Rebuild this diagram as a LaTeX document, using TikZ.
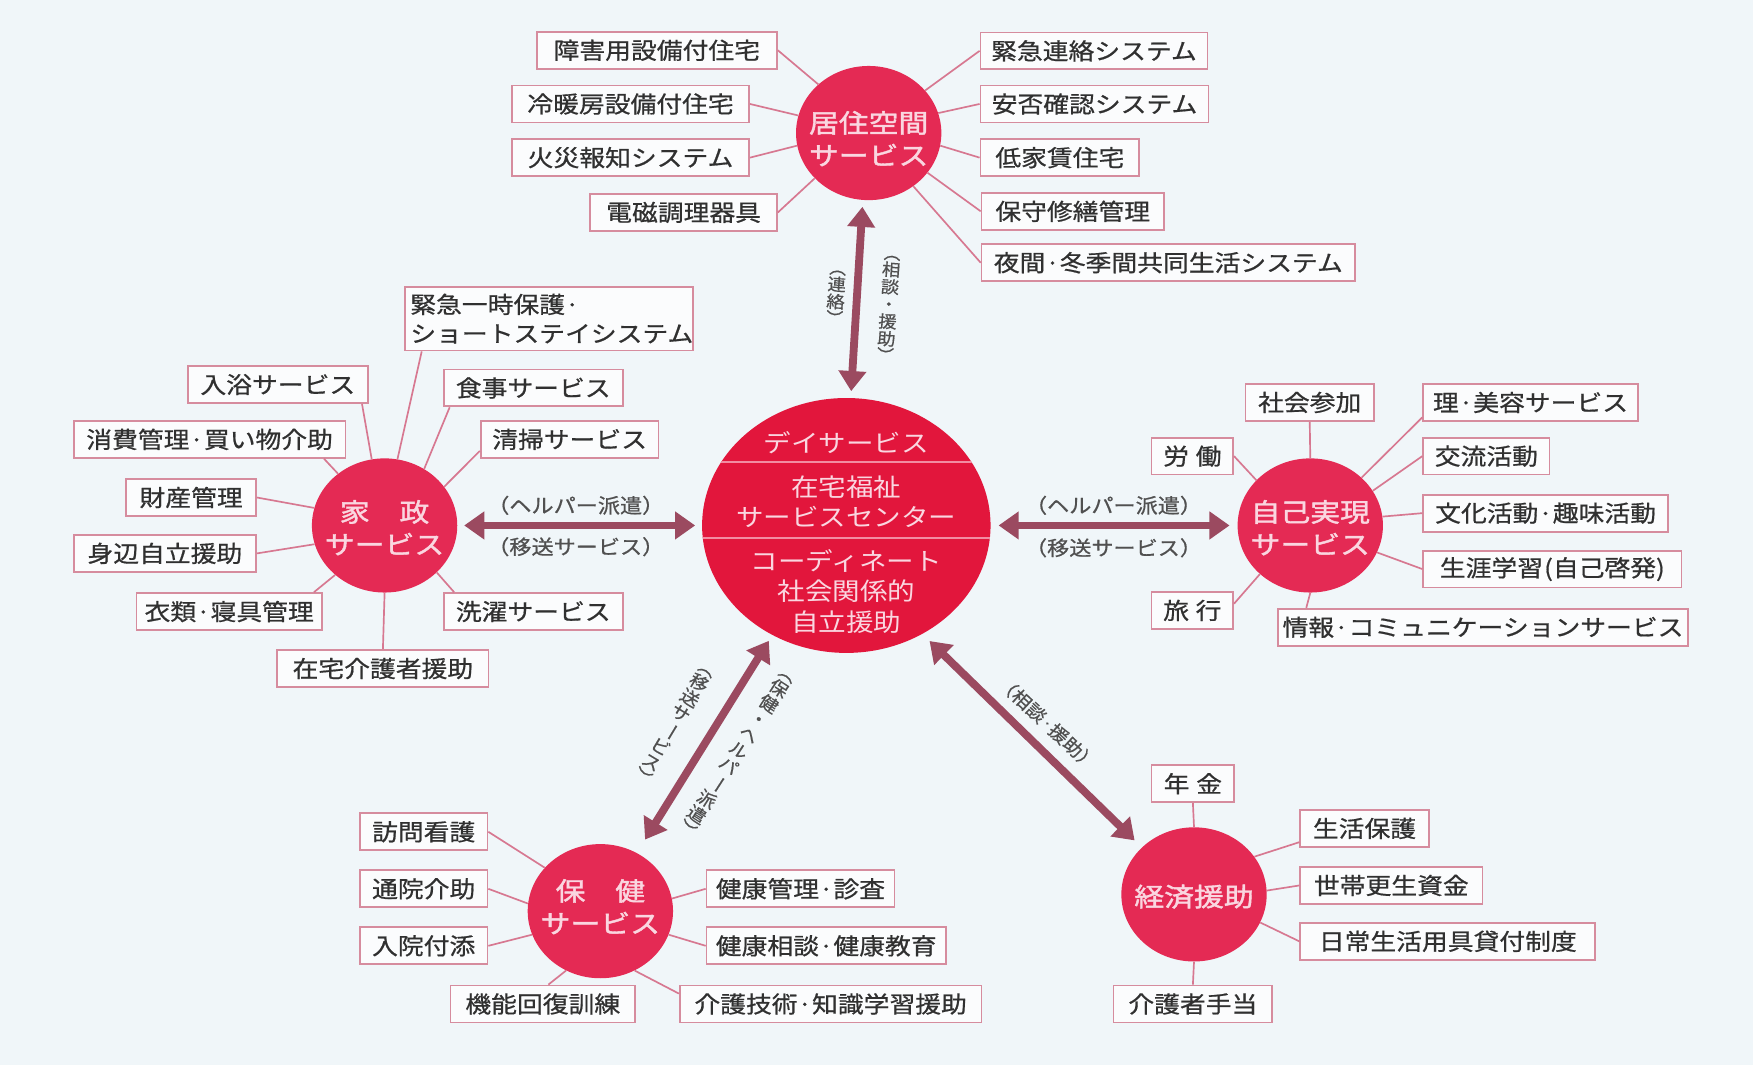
\documentclass[tikz,border=0pt]{standalone}
\usepackage{fontspec}
\setmainfont{Noto Sans CJK JP}[FakeStretch=1.12]
\newfontfamily\circfont{Noto Sans CJK JP}[FakeStretch=1.16,FakeBold=1.6]
\newfontfamily\boxfont{Noto Sans CJK JP}[FakeStretch=1.12,FakeBold=0.7]
\newfontfamily\labfont{Noto Sans CJK JP}[FakeStretch=1.1,FakeBold=0.6]
\usetikzlibrary{shapes.geometric,arrows.meta,calc}
\definecolor{bgc}{RGB}{240,246,249}
\definecolor{boxf}{RGB}{251,252,253}
\definecolor{boxc}{RGB}{214,140,158}
\definecolor{linec}{RGB}{215,120,145}
\definecolor{circc}{RGB}{228,42,84}
\definecolor{cenc}{RGB}{226,22,60}
\definecolor{ctxt}{RGB}{250,214,224}
\definecolor{arrc}{RGB}{155,74,96}
\definecolor{txtc}{RGB}{48,48,48}
\definecolor{labc}{RGB}{80,80,80}
\definecolor{divc}{RGB}{242,140,162}
\newcommand\rotg[1]{\rotatebox[origin=c]{-90}{#1}}
\begin{document}
\begin{tikzpicture}[x=1pt,y=-1pt,
 box/.style={draw=boxc, fill=boxf, line width=1.6pt, minimum height=33pt, inner xsep=4pt, inner ysep=0pt, text=txtc, font=\boxfont\fontsize{20.6}{25}\selectfont},
 circ/.style={ellipse, fill=circc, minimum width=130pt, minimum height=120pt, inner sep=0pt},
 ctext/.style={text=ctxt, font=\circfont\fontsize{23}{29}\selectfont, align=center, inner sep=0pt},
 cent/.style={text=ctxt, font=\fontsize{22}{27}\selectfont, align=center, inner sep=0pt},
 conn/.style={draw=linec, line width=1.5pt},
 bigarr/.style={draw=arrc, line width=7pt, {Triangle[width=24pt,length=18pt]}-{Triangle[width=24pt,length=18pt]}},
 hlab/.style={text=labc, font=\labfont\fontsize{18}{20}\selectfont, inner sep=0pt},
 vlab/.style={text=labc, font=\labfont\fontsize{15}{15.5}\selectfont, align=center, inner sep=0pt}
]
\useasboundingbox (0,0) rectangle (1568,953);
\fill[bgc] (0,0) rectangle (1568,953);

% ---------- circles ----------
\node[ellipse, fill=cenc, minimum width=258pt, minimum height=228pt, inner sep=0pt] (C) at (757,470) {};
\begin{scope}
\clip (757,470) ellipse [x radius=129pt, y radius=114pt];
\draw[divc, line width=1.5pt] (600,413) -- (920,413);
\draw[divc, line width=1.5pt] (600,481) -- (920,481);
\end{scope}
\node[cent] (C1) at (757,396) {デイサービス};
\node[cent] (C2) at (757,449) {在宅福祉\\サービスセンター};
\node[cent] (C3) at (757,529) {コーディネート\\社会関係的\\自立援助};

\node[circ] (K) at (777,119) {};
\node[circ] (H) at (344,470) {};
\node[circ] (J) at (1172,470) {};
\node[circ] (S) at (537,815) {};
\node[circ] (E) at (1068,800) {};
\node[ctext] (Kt) at (777,124) {居住空間\\サービス};
\node[ctext] (Ht) at (344,472) {家　政\\サービス};
\node[ctext] (Jt) at (1172,472) {自己実現\\サービス};
\node[ctext] (St) at (537,811) {保　健\\サービス};
\node[ctext] (Et) at (1068,802) {経済援助};

% ---------- boxes: 居住空間 ----------
\node[box, minimum width=215pt] (b1) at (587.5,45) {障害用設備付住宅};
\node[box, minimum width=212pt] (b2) at (564,93) {冷暖房設備付住宅};
\node[box, minimum width=212pt] (b3) at (564,141) {火災報知システム};
\node[box, minimum width=167pt] (b4) at (611.5,190) {電磁調理器具};
\node[box, minimum width=203pt] (b5) at (978.5,45.5) {緊急連絡システム};
\node[box, minimum width=204pt] (b6) at (979,93) {安否確認システム};
\node[box, minimum width=142pt] (b7) at (948,141) {低家賃住宅};
\node[box, minimum width=163pt] (b8) at (959.5,189) {保守修繕管理};
\node[box, minimum width=334pt] (b9) at (1045,235) {夜間·冬季間共同生活システム};

% ---------- boxes: 家政 ----------
\node[box, minimum width=258pt, minimum height=57pt, align=left, text width=248pt, font=\boxfont\fontsize{20.6}{26}\selectfont] (c1) at (491,285) {緊急一時保護·\\ショートステイシステム};
\node[box, minimum width=161pt] (c2) at (248.5,344) {入浴サービス};
\node[box, minimum width=160pt] (c3) at (477,347) {食事サービス};
\node[box, minimum width=243pt] (c4) at (187.5,393) {消費管理·買い物介助};
\node[box, minimum width=159pt] (c5) at (509.5,393) {清掃サービス};
\node[box, minimum width=116pt] (c6) at (171,445) {財産管理};
\node[box, minimum width=163pt] (c7) at (147.5,495) {身辺自立援助};
\node[box, minimum width=166pt] (c8) at (205,547) {衣類·寝具管理};
\node[box, minimum width=160pt] (c9) at (477,547) {洗濯サービス};
\node[box, minimum width=189pt] (c10) at (342.5,598) {在宅介護者援助};

% ---------- boxes: 自己実現 ----------
\node[box, minimum width=115pt] (d1) at (1171.5,360) {社会参加};
\node[box, minimum width=192pt] (d2) at (1369,360) {理·美容サービス};
\node[box, minimum width=73pt] (d3) at (1066.5,408) {労\hspace{6pt}働};
\node[box, minimum width=113pt] (d4) at (1329.5,408) {交流活動};
\node[box, minimum width=219pt] (d5) at (1382.5,459) {文化活動·趣味活動};
\node[box, minimum width=231pt] (d6) at (1388.5,509) {生涯学習\hspace{1pt}(自己啓発)};
\node[box, minimum width=73pt] (d7) at (1066.5,546) {旅\hspace{6pt}行};
\node[box, minimum width=361pt] (d8) at (1326.5,561) {情報·コミュニケーションサービス};

% ---------- boxes: 保健 ----------
\node[box, minimum width=114pt] (e1) at (379,744) {訪問看護};
\node[box, minimum width=114pt] (e2) at (379,795) {通院介助};
\node[box, minimum width=114pt] (e3) at (379,846) {入院付添};
\node[box, minimum width=165pt] (e4) at (485.5,898) {機能回復訓練};
\node[box, minimum width=168pt] (e5) at (716,795) {健康管理·診査};
\node[box, minimum width=214pt] (e6) at (739,846) {健康相談·健康教育};
\node[box, minimum width=270pt] (e7) at (743,898) {介護技術·知識学習援助};

% ---------- boxes: 経済援助 ----------
\node[box, minimum width=74pt] (f1) at (1067,701) {年\hspace{6pt}金};
\node[box, minimum width=115pt] (f2) at (1220.5,741) {生活保護};
\node[box, minimum width=163pt] (f3) at (1244.5,792) {世帯更生資金};
\node[box, minimum width=264pt] (f4) at (1295,842) {日常生活用具貸付制度};
\node[box, minimum width=142pt] (f5) at (1067,898) {介護者手当};

% ---------- connectors ----------
\draw[conn] (b1.east) -- (K.136);
\draw[conn] (b2.east) -- (K.166);
\draw[conn] (b3.east) -- (K.190);
\draw[conn] (b4.east) -- (K.220);
\draw[conn] (b5.west) -- (K.37);
\draw[conn] (b6.west) -- (K.16);
\draw[conn] (b7.west) -- (K.-10);
\draw[conn] (b8.west) -- (K.-34);
\draw[conn] (b9.west) -- (K.-50);

\draw[conn] ($(c1.south west)+(16,0)$) -- (H.79);
\draw[conn] ($(c2.south east)+(-6,0)$) -- (H.101);
\draw[conn] ($(c3.south west)+(6,0)$) -- (H.55);
\draw[conn] ($(c4.south east)+(-20,0)$) -- (H.132);
\draw[conn] ($(c5.south west)+(0,-7)$) -- (H.33);
\draw[conn] (c6.east) -- (H.166);
\draw[conn] (c7.east) -- (H.195);
\draw[conn] ($(c8.north east)+(-8,0)$) -- (H.225);
\draw[conn] ($(c9.north west)+(10,0)$) -- (H.-42);
\draw[conn] (c10.north) -- (H.270);

\draw[conn] (d1.south) -- (J.90);
\draw[conn] ($(d2.south west)+(0,-4)$) -- (J.43);
\draw[conn] (d3.east) -- (J.140);
\draw[conn] (d4.west) -- (J.29);
\draw[conn] (d5.west) -- (J.7);
\draw[conn] (d6.west) -- (J.-22);
\draw[conn] ($(d7.east)+(0,-6)$) -- (J.224);
\draw[conn] ($(d8.north west)+(26,0)$) -- (J.270);

\draw[conn] (e1.east) -- (S.142);
\draw[conn] (e2.east) -- (S.174);
\draw[conn] (e3.east) -- (S.199);
\draw[conn] ($(e4.north)+(5,0)$) -- (S.240);
\draw[conn] (e5.west) -- (S.10);
\draw[conn] (e6.west) -- (S.-19);
\draw[conn] ($(e7.north west)+(0,8)$) -- (S.-60);

\draw[conn] (f1.south) -- (E.90);
\draw[conn] ($(f2.south west)+(0,-5)$) -- (E.32);
\draw[conn] (f3.west) -- (E.3);
\draw[conn] (f4.west) -- (E.-23);
\draw[conn] (f5.north) -- (E.270);

% ---------- big arrows ----------
\draw[bigarr, shorten <=6pt, shorten >=6pt] (K.265) -- (C.88);
\draw[bigarr, shorten <=6pt, shorten >=6pt] (H.0) -- (C.180);
\draw[bigarr, shorten <=7pt, shorten >=7pt] (C.0) -- (J.180);
\draw[bigarr, shorten <=6pt, shorten >=14pt] (C.236) -- (S.58);
\draw[bigarr, shorten <=9pt, shorten >=9pt] (C.-55) -- (E.138);

% ---------- arrow labels ----------
\node[hlab] (l1) at (515,452) {（ヘルパー派遣）};
\node[hlab] (l2) at (515,489) {（移送サービス）};
\node[hlab] (l3) at (996,452) {（ヘルパー派遣）};
\node[hlab] (l4) at (996,490) {（移送サービス）};
\node[vlab, rotate=-4] (l5) at (748,262) {\rotg{（}\\連\\絡\\\rotg{）}};
\node[vlab, rotate=-4] (l6) at (795,272) {\rotg{（}\\相\\談\\・\\援\\助\\\rotg{）}};
\node[vlab, rotate=-31, font=\labfont\fontsize{15.5}{16}\selectfont] (l7) at (604,646) {\rotg{（}\\移\\送\\サ\\\rotg{ー}\\ビ\\ス\\\rotg{）}};
\node[vlab, rotate=-33, font=\labfont\fontsize{15.5}{16.5}\selectfont] (l8) at (660,672) {\rotg{（}\\保\\健\\・\\ヘ\\ル\\パ\\\rotg{ー}\\派\\遣\\\rotg{）}};
\node[hlab, rotate=-43, font=\labfont\fontsize{16}{18}\selectfont] (l9) at (937,647) {（相談·援助）};
\end{tikzpicture}
\end{document}
